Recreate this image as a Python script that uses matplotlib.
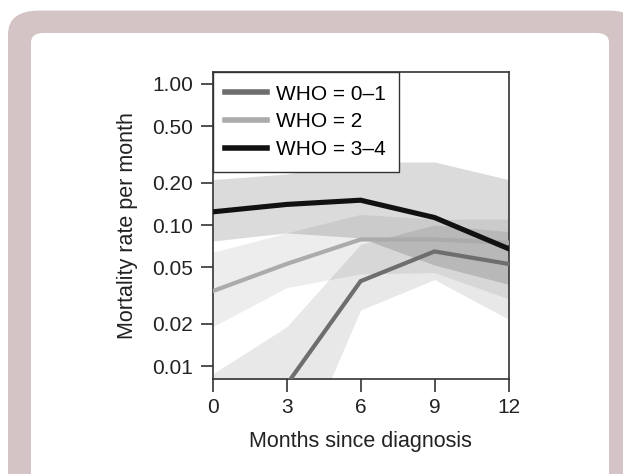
import matplotlib
matplotlib.use("Agg")
import matplotlib.pyplot as plt
from matplotlib.patches import FancyBboxPatch
import numpy as np

plt.rcParams["font.family"] = ["Liberation Sans", "DejaVu Sans"]

months = [0, 3, 6, 9, 12]

# mortality rate per month (estimated from the figure)
who01_rate = [0.002, 0.0074, 0.040, 0.065, 0.053]
who01_lo = [0.0004, 0.0015, 0.025, 0.041, 0.0215]
who01_hi = [0.0088, 0.019, 0.073, 0.100, 0.090]

who2_rate = [0.034, 0.053, 0.079, 0.079, 0.075]
who2_lo = [0.019, 0.036, 0.045, 0.046, 0.030]
who2_hi = [0.064, 0.088, 0.119, 0.110, 0.110]

who34_rate = [0.124, 0.140, 0.150, 0.113, 0.068]
who34_lo = [0.077, 0.088, 0.081, 0.052, 0.038]
who34_hi = [0.21, 0.23, 0.28, 0.28, 0.21]

labels = ["WHO = 0\u20131", "WHO = 2", "WHO = 3\u20134"]
yticks = [0.01, 0.02, 0.05, 0.10, 0.20, 0.50, 1.00]
ytick_labels = ["0.01", "0.02", "0.05", "0.10", "0.20", "0.50", "1.00"]
xticks = [0, 3, 6, 9, 12]

FS = 15
W, H = 623, 474
fig = plt.figure(figsize=(W / 100, H / 100), dpi=100)
fig.patch.set_facecolor("white")

# rounded frame behind the chart
outer = FancyBboxPatch((8 / W, -0.2), (640 - 8) / W, (H - 10.6) / H + 0.2,
                       boxstyle="round,pad=0,rounding_size=0.05",
                       transform=fig.transFigure, facecolor="#d5c4c5",
                       edgecolor="none", zorder=-10)
inner = FancyBboxPatch((31 / W, -0.2), (609 - 31) / W, (H - 33) / H + 0.2,
                       boxstyle="round,pad=0,rounding_size=0.02",
                       transform=fig.transFigure, facecolor="white",
                       edgecolor="none", zorder=-9)
fig.patches.extend([outer, inner])

ax = fig.add_axes([212.7 / W, 1 - 379 / H, (508.5 - 212.7) / W, (379 - 72) / H])
ax.set_facecolor("none")
ax.set_zorder(5)

series = [
    (who01_rate, who01_lo, who01_hi, "#6e6e6e", 0.09, 3.0),
    (who2_rate, who2_lo, who2_hi, "#ababab", 0.07, 3.0),
    (who34_rate, who34_lo, who34_hi, "#111111", 0.14, 3.7),
]

for rate, lo, hi, col, a, lw in series:
    ax.fill_between(months, lo, hi, color="black", alpha=a, linewidth=0, zorder=1)

for (rate, lo, hi, col, a, lw), lab in zip(series, labels):
    ax.plot(months, rate, color=col, linewidth=lw, label=lab, zorder=3,
            solid_joinstyle="miter")

ax.set_yscale("log")
ax.set_ylim(0.0081, 1.216)
ax.set_xlim(0, 12)
ax.set_yticks(yticks)
ax.set_yticklabels(ytick_labels)
ax.yaxis.set_minor_locator(matplotlib.ticker.NullLocator())
ax.set_xticks(xticks)

ax.tick_params(axis="both", direction="out", length=9, width=1.2,
               color="#333333", labelsize=FS, labelcolor="#222222", pad=5)
for s in ax.spines.values():
    s.set_color("#333333")
    s.set_linewidth(1.2)

ax.set_xlabel("Months since diagnosis", fontsize=15.5, color="#222222", labelpad=10)
ax.set_ylabel("Mortality rate per month", fontsize=15.5, color="#222222", labelpad=10)

leg = ax.legend(loc="upper left", bbox_to_anchor=(0, 1), borderaxespad=0,
                fancybox=False, framealpha=1, edgecolor="#333333",
                fontsize=FS, handlelength=2.0, handletextpad=0.45,
                labelspacing=0.42, borderpad=0.6)
leg.get_frame().set_linewidth(1.0)
for line in leg.get_lines():
    line.set_linewidth(4)

fig.savefig("out.png", dpi=100, facecolor=fig.get_facecolor())
